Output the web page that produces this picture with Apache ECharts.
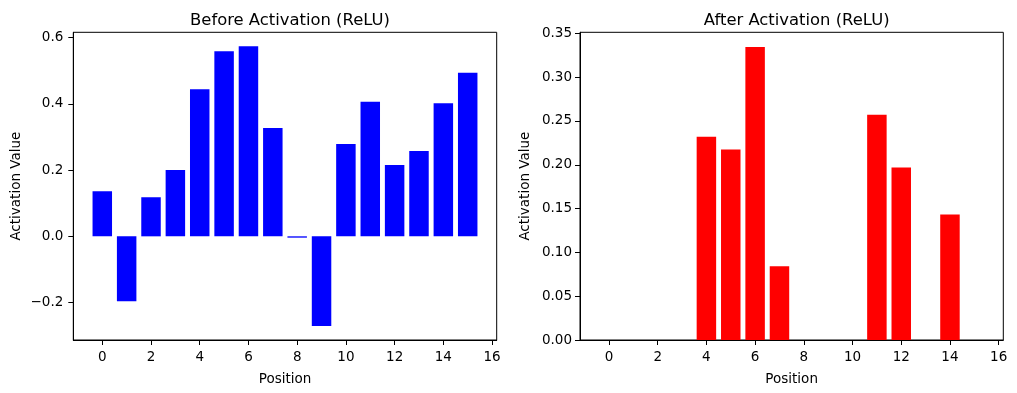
<!DOCTYPE html>
<html>
<head>
<meta charset="utf-8">
<script src="https://cdn.jsdelivr.net/npm/echarts@6/dist/echarts.min.js"></script>
<style>html,body{margin:0;padding:0;background:#fff;}#c{width:1017px;height:393px;}</style>
</head>
<body>
<div id="c"></div>
<script>
const positions = [0,1,2,3,4,5,6,7,8,9,10,11,12,13,14,15];
const beforeValues = [0.136, -0.196, 0.118, 0.200, 0.444, 0.559, 0.574, 0.327, -0.004, -0.271, 0.279, 0.406, 0.215, 0.258, 0.402, 0.494];
const afterValues = [0, 0, 0, 0, 0.232, 0.2173, 0.3345, 0.0842, 0, 0, 0, 0.2571, 0.1968, 0, 0.1433, 0];
const xTicks = [0,2,4,6,8,10,12,14,16];
const leftYTicks = [-0.2, 0.0, 0.2, 0.4, 0.6];
const rightYTicks = [0, 0.05, 0.10, 0.15, 0.20, 0.25, 0.30, 0.35];
const titles = ['Before Activation (ReLU)', 'After Activation (ReLU)'];
const xName = 'Position';
const yName = 'Activation Value';

const FONT = 'DejaVu Sans';
const BAR_W = 0.8;

function renderBar(params, api) {
  const x = api.value(0), v = api.value(1);
  const p1 = api.coord([x - BAR_W/2, v]);
  const p2 = api.coord([x + BAR_W/2, 0]);
  const y = Math.min(p1[1], p2[1]);
  const h = Math.max(Math.abs(p2[1] - p1[1]), v !== 0 ? 1 : 0);
  return {
    type: 'rect',
    shape: {x: p1[0], y: y, width: p2[0] - p1[0], height: h},
    style: {fill: api.visual('color')}
  };
}

function xAxisCfg(gi) {
  return {
    type: 'value', gridIndex: gi, min: -1.19, max: 16.19,
    name: xName, nameLocation: 'middle', nameGap: 32,
    nameTextStyle: {fontFamily: FONT, fontSize: 13.5, color: '#000'},
    axisLine: {show: true, onZero: false, lineStyle: {color: '#000', width: 1}},
    axisTick: {show: true, inside: false, length: 5, lineStyle: {color: '#000'}, customValues: xTicks},
    axisLabel: {fontFamily: FONT, fontSize: 13.5, color: '#000', margin: 10, customValues: xTicks},
    splitLine: {show: false}
  };
}
function fmtMinus(s) { return s.replace('-', '\u2212'); }

const option = {
  animation: false,
  backgroundColor: '#fff',
  title: [
    {text: titles[0], left: 285, top: 8, textAlign: 'center', textStyle: {fontFamily: FONT, fontSize: 16.4, fontWeight: 'normal', color: '#000'}},
    {text: titles[1], left: 791.7, top: 8, textAlign: 'center', textStyle: {fontFamily: FONT, fontSize: 16.4, fontWeight: 'normal', color: '#000'}}
  ],
  grid: [
    {left: 73.3, top: 32.3, width: 423.4, height: 307.7, show: true, borderColor: '#000', borderWidth: 1, backgroundColor: 'transparent'},
    {left: 580, top: 32.3, width: 423.3, height: 307.7, show: true, borderColor: '#000', borderWidth: 1, backgroundColor: 'transparent'}
  ],
  xAxis: [xAxisCfg(0), xAxisCfg(1)],
  yAxis: [
    {
      type: 'value', gridIndex: 0, min: -0.313, max: 0.616,
      name: yName, nameLocation: 'middle', nameGap: 50,
      nameTextStyle: {fontFamily: FONT, fontSize: 13.5, color: '#000'},
      axisLine: {show: true, onZero: false, lineStyle: {color: '#000'}},
      axisTick: {show: true, length: 5, lineStyle: {color: '#000'}, customValues: leftYTicks},
      axisLabel: {fontFamily: FONT, fontSize: 13.5, color: '#000', margin: 10, customValues: leftYTicks,
        formatter: v => fmtMinus(v.toFixed(1))},
      splitLine: {show: false}
    },
    {
      type: 'value', gridIndex: 1, min: 0, max: 0.3512,
      name: yName, nameLocation: 'middle', nameGap: 48,
      nameTextStyle: {fontFamily: FONT, fontSize: 13.5, color: '#000'},
      axisLine: {show: true, onZero: false, lineStyle: {color: '#000'}},
      axisTick: {show: true, length: 5, lineStyle: {color: '#000'}, customValues: rightYTicks},
      axisLabel: {fontFamily: FONT, fontSize: 13.5, color: '#000', margin: 8, customValues: rightYTicks,
        formatter: v => v.toFixed(2)},
      splitLine: {show: false}
    }
  ],
  series: [
    {type: 'custom', xAxisIndex: 0, yAxisIndex: 0, itemStyle: {color: '#0000ff'},
     renderItem: renderBar, data: positions.map((p, i) => [p, beforeValues[i]])},
    {type: 'custom', xAxisIndex: 1, yAxisIndex: 1, itemStyle: {color: '#ff0000'},
     renderItem: renderBar, data: positions.map((p, i) => [p, afterValues[i]])}
  ]
};
const chart = echarts.init(document.getElementById('c'), null, {renderer: 'canvas'});
chart.setOption(option);
</script>
</body>
</html>
